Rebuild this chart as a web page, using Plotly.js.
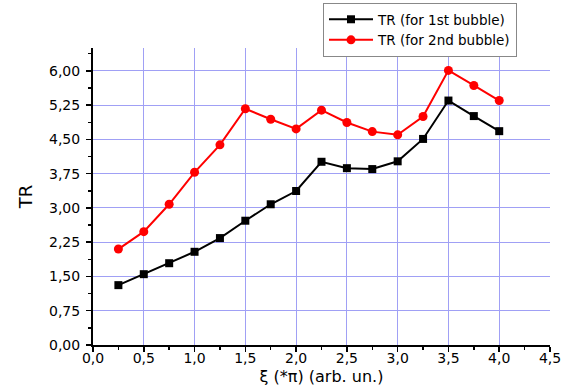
<!DOCTYPE html>
<html>
<head>
<meta charset="utf-8">
<script src="https://cdn.plot.ly/plotly-3.0.1.min.js"></script>
<style>html,body{margin:0;padding:0;background:#fff;}#chart{width:567px;height:392px;}</style>
</head>
<body>
<div id="chart"></div>
<script>
const xValues = [0.25, 0.5, 0.75, 1.0, 1.25, 1.5, 1.75, 2.0, 2.25, 2.5, 2.75, 3.0, 3.25, 3.5, 3.75, 4.0];
const bubble1 = [1.31, 1.55, 1.79, 2.04, 2.34, 2.72, 3.08, 3.37, 4.01, 3.87, 3.85, 4.02, 4.51, 5.35, 5.01, 4.68];
const bubble2 = [2.10, 2.48, 3.08, 3.78, 4.38, 5.17, 4.94, 4.73, 5.14, 4.87, 4.67, 4.60, 5.00, 6.01, 5.68, 5.35];
const seriesNames = ["TR (for 1st bubble)", "TR (for 2nd bubble)"];
const xTitle = "ξ (*π) (arb. un.)";
const yTitle = "TR";

const traces = [
  {x: xValues, y: bubble1, name: seriesNames[0], type: 'scatter', mode: 'lines+markers',
   line: {color: '#000000', width: 2}, marker: {symbol: 'square', size: 8, color: '#000000'}},
  {x: xValues, y: bubble2, name: seriesNames[1], type: 'scatter', mode: 'lines+markers',
   line: {color: '#ff0000', width: 2}, marker: {symbol: 'circle', size: 9, color: '#ff0000'}}
];

const gridColor = 'rgb(160,160,245)';
const layout = {
  width: 567, height: 392,
  margin: {l: 93, r: 17, t: 48, b: 47, autoexpand: false},
  paper_bgcolor: '#fff', plot_bgcolor: '#fff',
  separators: ', ',
  font: {family: 'DejaVu Sans, sans-serif', size: 14, color: '#000'},
  showlegend: true,
  legend: {x: 323/567, y: 1 - 3/392, xref: 'container', yref: 'container', xanchor: 'left', yanchor: 'top',
    bordercolor: '#888', borderwidth: 1, bgcolor: '#fff',
    font: {size: 13.5}, tracegroupgap: 0, itemwidth: 44},
  xaxis: {
    range: [0, 4.5], tick0: 0, dtick: 0.5, tickformat: '.1f',
    showgrid: true, gridcolor: gridColor, gridwidth: 1,
    zeroline: false, showline: true, linecolor: '#000', linewidth: 2,
    ticks: 'outside', ticklen: 5, tickwidth: 1.5, tickcolor: '#000',
    minor: {dtick: 0.25, ticks: 'outside', ticklen: 3, tickwidth: 1.5, tickcolor: '#000', showgrid: false},
    ticklabelstandoff: -6,
    title: {text: xTitle, font: {size: 16}, standoff: 6},
    tickfont: {size: 14}
  },
  yaxis: {
    range: [0, 6.5], tick0: 0, dtick: 0.75, tickformat: '.2f',
    showgrid: true, gridcolor: gridColor, gridwidth: 1,
    zeroline: false, showline: true, linecolor: '#000', linewidth: 2,
    ticks: 'outside', ticklen: 5, tickwidth: 1.5, tickcolor: '#000',
    minor: {dtick: 0.375, ticks: 'outside', ticklen: 3, tickwidth: 1.5, tickcolor: '#000', showgrid: false},
    ticklabelstandoff: 3,
    title: {text: yTitle, font: {size: 18}, standoff: 12},
    tickfont: {size: 14}
  }
};

Plotly.newPlot('chart', traces, layout, {displayModeBar: false, staticPlot: true});
</script>
</body>
</html>
